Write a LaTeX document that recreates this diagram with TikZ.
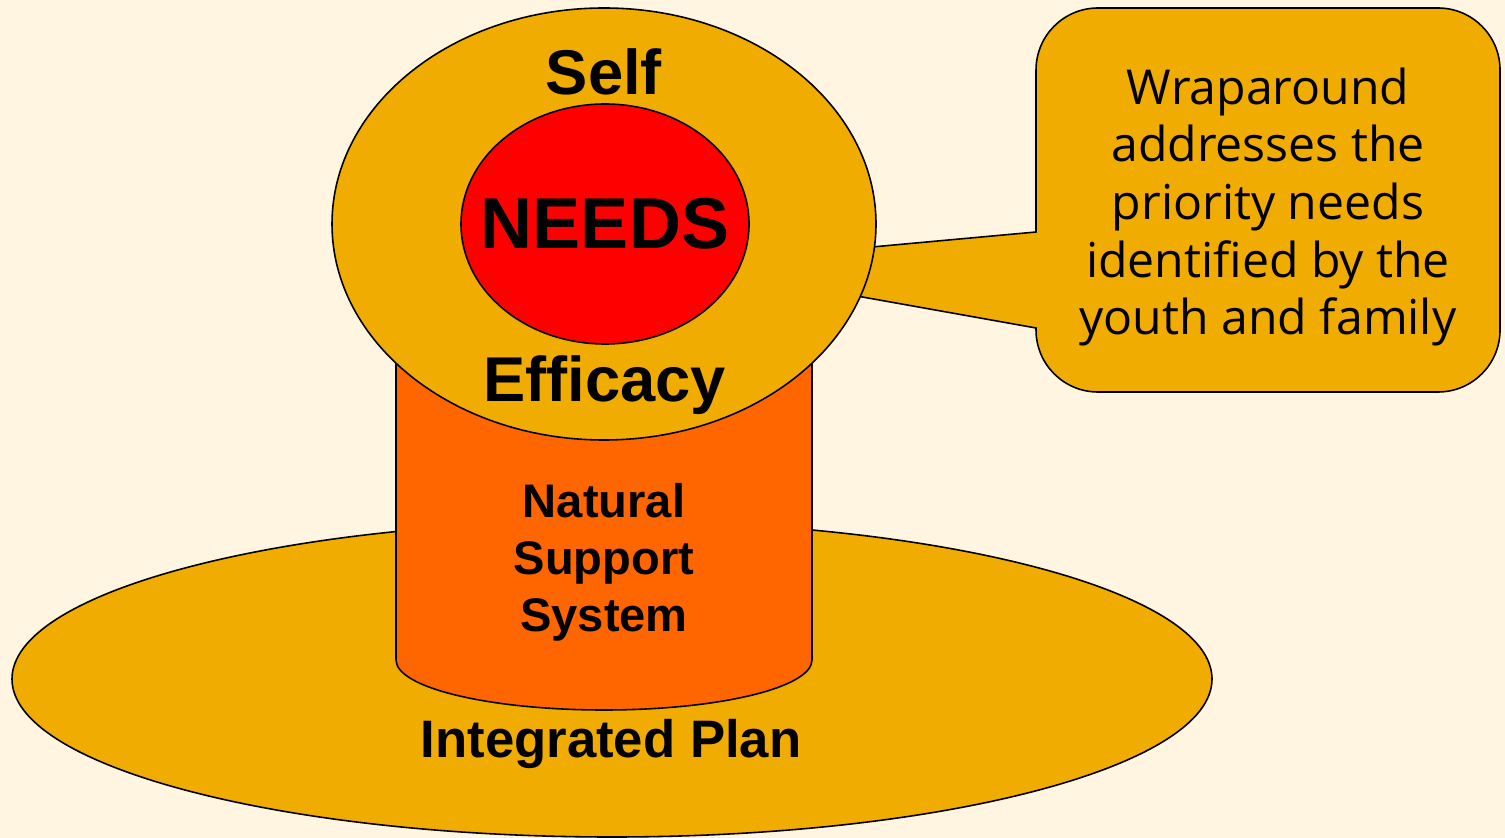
\documentclass[tikz,border=0pt]{standalone}
\usepackage{fontspec}
\setmainfont{Liberation Sans}
\newfontfamily\bubblefont{Open Sans}
\usetikzlibrary{shapes.geometric}
\definecolor{creambg}{RGB}{255,245,224}
\definecolor{gold}{RGB}{240,172,0}
\definecolor{pumpkin}{RGB}{255,102,0}
\definecolor{needsred}{RGB}{255,0,0}
\tikzset{
	outline/.style={draw=black, line width=0.45pt},
	oval/.style={ellipse, outline, inner sep=0pt},
	word/.style={text=black, inner sep=0pt},
}
\begin{document}
\begin{tikzpicture}
	\fill[creambg] (0,0) rectangle (15.05,-8.38);
	\useasboundingbox (0,0) rectangle (15.05,-8.38);
	% base
	\node[oval, fill=gold, minimum width=12cm, minimum height=3.16cm] (plan) at (6.12,-6.79) {};
	% cylinder
	\draw[outline, fill=pumpkin] (3.96,-3.0) -- (3.96,-6.60) arc (180:360:2.08 and 0.50) -- (8.12,-3.0) -- cycle;
	% callout
	\draw[outline, fill=gold] (10.36,-2.32) -- (8.50,-2.49) -- (8.40,-2.93) -- (10.36,-3.28)
		-- (10.36,-3.30) arc (180:270:0.62) -- (14.38,-3.92) arc (270:360:0.62)
		-- (15.00,-0.70) arc (0:90:0.62) -- (10.98,-0.08) arc (90:180:0.62) -- cycle;
	% top
	\node[oval, fill=gold, minimum width=5.44cm, minimum height=4.32cm] (selfeff) at (6.04,-2.24) {};
	\node[oval, fill=needsred, minimum width=2.88cm, minimum height=2.40cm] (needs) at (6.05,-2.24) {};
	\node[word, font=\fontsize{20.5}{24}\bfseries] (needstext) at (needs.center) {NEEDS};
	\node[word, font=\fontsize{18}{21}\bfseries, anchor=base] (self) at (6.04,-0.95) {Self};
	\node[word, font=\fontsize{18}{21}\bfseries, anchor=base] (efficacy) at (6.045,-4.02) {Efficacy};
	\node[word, font=\fontsize{13.4}{16.2}\bfseries, align=center] (natural) at (6.04,-5.62) {Natural\\Support\\System};
	\node[word, font=\fontsize{15}{18}\bfseries, anchor=base] (integrated) at (6.11,-7.57) {Integrated Plan};
	\node[word, font=\bubblefont\fontsize{13.7}{16.4}\selectfont, align=center] (wrap) at (12.68,-2.07) {Wraparound\\addresses the\\priority needs\\identified by the\\youth and family};
\end{tikzpicture}
\end{document}
